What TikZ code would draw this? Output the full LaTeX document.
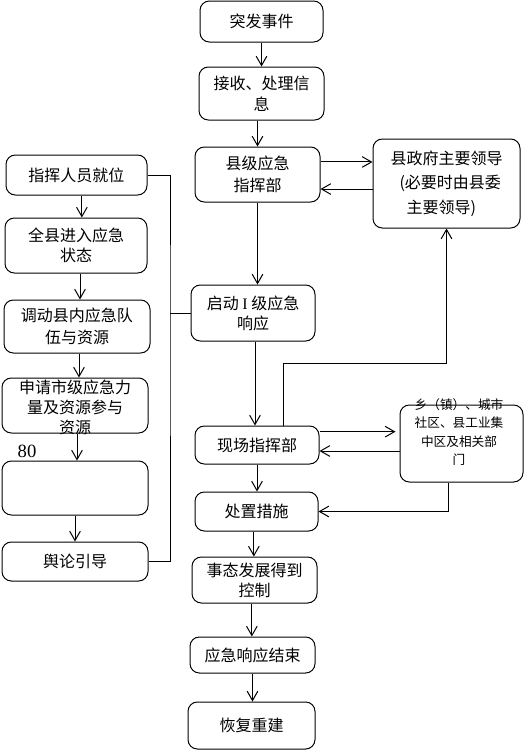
\documentclass[tikz,border=0pt]{standalone}
\usepackage{fontspec}
\setmainfont{Noto Sans CJK SC}
\newfontfamily\romanfont{Liberation Serif}
\usetikzlibrary{arrows.meta}
\tikzset{every picture/.style={line width=0.75pt}}
\tikzset{
  box/.style={draw, rounded corners=7pt, inner sep=0pt, align=center, font=\fontsize{12}{16}\selectfont},
  boxtext/.style={inner sep=0pt, align=center, font=\fontsize{12}{15}\selectfont},
  arr/.style={-{Straight Barb[length=7pt,width=8pt]}},
}
\begin{document}
\begin{tikzpicture}[x=0.75pt,y=0.75pt,yscale=-1,xscale=1]
\useasboundingbox (0,0) rectangle (524,750);

% main column
\node[box, minimum width=92.25pt, minimum height=30.75pt] (event) at (261.5,21.5) {突发事件};
\node[box, minimum width=93.75pt, minimum height=39.75pt] (info) at (261.5,93.5) {接收、处理信\\息};
\node[box, minimum width=93.75pt, minimum height=41.25pt] (cmd) at (257.5,174.5) {县级应急\\指挥部};
\node[box, minimum width=93pt, minimum height=42pt, font=\fontsize{12}{15}\selectfont] (start) at (253,313) {启动 {\romanfont I} 级应急\\响应};
\node[box, minimum width=93pt, minimum height=28.5pt] (site) at (257,445) {现场指挥部};
\node[box, minimum width=92.25pt, minimum height=29.25pt] (dispose) at (256.5,511.5) {处置措施};
\node[box, minimum width=93.75pt, minimum height=34.5pt, font=\fontsize{12}{15}\selectfont] (ctrl) at (254.5,580) {事态发展得到\\控制};
\node[box, minimum width=93.75pt, minimum height=27pt] (finish) at (252.5,655) {应急响应结束};
\node[box, minimum width=95.25pt, minimum height=35.25pt] (rebuild) at (251.5,725.5) {恢复重建};

% right column
\node[box, minimum width=110.25pt, minimum height=66.75pt, align=left, font=\fontsize{12}{18.4}\selectfont] (gov) at (446.5,183.5) {县政府主要领导\\\hspace{6.75pt}(必要时由县委\\\hspace{12pt}主要领导)};
\node[box, minimum width=92.25pt, minimum height=57.75pt] (town) at (461.5,443.5) {};
\node[boxtext, font=\fontsize{9.5}{13.7}\selectfont] (towntext) at (459,432) {乡（镇）、城市\\社区、县工业集\\中区及相关部\\门};

% left column
\node[box, minimum width=105.75pt, minimum height=30pt] (post) at (76.5,175) {指挥人员就位};
\node[box, minimum width=106.5pt, minimum height=41.25pt, font=\fontsize{12}{15}\selectfont] (state) at (76,245.5) {全县进入应急\\状态};
\node[box, minimum width=109.5pt, minimum height=39.75pt] (team) at (77,326.5) {调动县内应急队\\伍与资源};
\node[box, minimum width=109.5pt, minimum height=41.25pt] (apply) at (75,405.5) {};
\node[boxtext] (applytext) at (75,407) {申请市级应急力\\量及资源参与\\资源};
\node[box, minimum width=109.5pt, minimum height=40.5pt] (blank) at (75,488) {};
\node[box, minimum width=109.5pt, minimum height=29.25pt] (media) at (75,561.5) {舆论引导};
\node[inner sep=0pt, font=\romanfont\fontsize{14}{14}\selectfont] (num) at (27,451) {80};

% main flow
\draw[arr] (event.south) -- (event.south |- info.north);
\draw[arr] ([xshift=-3pt]info.south) -- ([xshift=-3pt]info.south |- cmd.north);
\draw[arr] (cmd.south) -- (cmd.south |- start.north);
\draw[arr] ([xshift=1.5pt]start.south) -- ([xshift=1.5pt]start.south |- site.north);
\draw[arr] (site.south) -- (site.south |- dispose.north);
\draw[arr] ([xshift=-2pt]dispose.south) -- ([xshift=-2pt]dispose.south |- ctrl.north);
\draw[arr] ([xshift=-2pt]ctrl.south) -- ([xshift=-2pt]ctrl.south |- finish.north);
\draw[arr] (finish.south) -- (finish.south |- rebuild.north);

% county command and leaders
\draw[arr] ([yshift=-9.4pt]cmd.east) -- ([yshift=-9.4pt]cmd.east -| gov.west);
\draw[arr] ([yshift=10.9pt]cmd.east -| gov.west) -- ([yshift=10.9pt]cmd.east);
\coordinate (bend) at (283,363);
\draw[arr] ([xshift=19.5pt]site.north) |- (bend) -| (gov.south);

% site command and towns
\draw[arr, shorten >=3pt] ([yshift=-10pt]site.east) -- ([yshift=-10pt]site.east -| town.west);
\draw[arr] ([yshift=4.5pt]site.east -| town.west) -- ([yshift=4.5pt]site.east);
\draw[arr] ([xshift=-10pt]town.south) |- (dispose.east);

% left column
\draw[arr] ([xshift=4pt]post.south) -- ([xshift=4pt]post.south |- state.north);
\draw[arr] ([xshift=3pt]state.south) -- ([xshift=3pt]state.south |- team.north);
\draw[arr] ([xshift=1.5pt]team.south) -- ([xshift=1.5pt]team.south |- apply.north);
\draw[arr] ([xshift=1.5pt]apply.south) -- ([xshift=1.5pt]apply.south |- blank.north);
\draw[arr] (blank.south) -- (blank.south |- media.north);
\coordinate (rail) at (170,313);
\draw (post.east) -| (rail) |- (media.east);
\draw (rail) -- (start.west);

\end{tikzpicture}
\end{document}
